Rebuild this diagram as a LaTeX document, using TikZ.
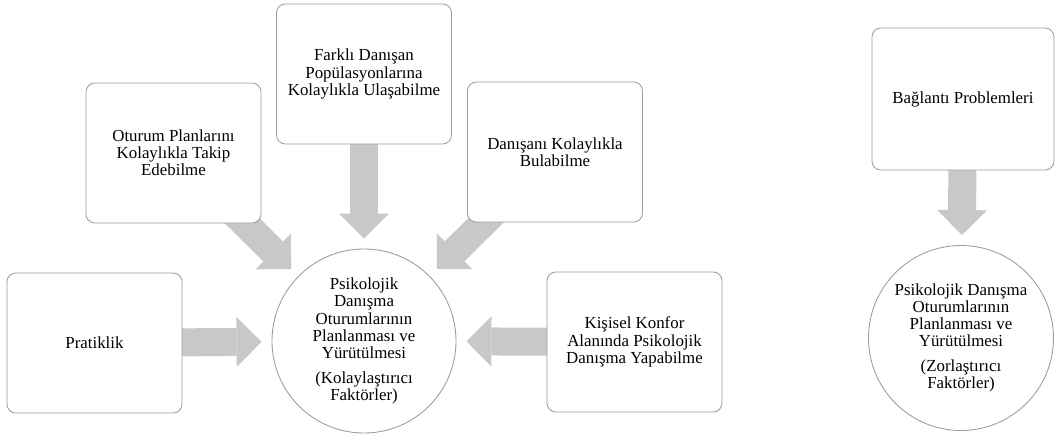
\documentclass[tikz,border=0pt]{standalone}
\usepackage{fontspec}
\setmainfont{Liberation Serif}
\usetikzlibrary{arrows.meta,backgrounds}

\definecolor{arrowgray}{RGB}{200,200,200}
\definecolor{edgegray}{RGB}{155,155,155}

\begin{document}
\begin{tikzpicture}[
    font=\fontsize{12}{12.2}\selectfont,
    factor/.style     = {draw=edgegray, line width=0.6pt, fill=white, rounded corners=0.22cm,
                         minimum width=4.375cm, minimum height=3.5cm, align=center, inner sep=2pt},
    process/.style    = {circle, draw=edgegray, line width=0.6pt, fill=white,
                         minimum size=4.6cm, inner sep=0pt, align=center},
    blockarrow/.style = {draw=arrowgray, line width=0.7cm,
                         -{Triangle[length=0.625cm, width=1.25cm, line width=0pt]},
                         shorten >=0.25cm, shorten <=-0.4cm}
  ]
\useasboundingbox (0,0) rectangle (26.4,10.9);

% =========================================================
% LEFT PART -- facilitating factors
% =========================================================
\node[process] (kolay) at (9.1, 2.375)
  {Psikolojik\\Danışma\\Oturumlarının\\Planlanması ve\\Yürütülmesi\\[5.5pt]
   (Kolaylaştırıcı\\Faktörler)};

\node[factor] (oturum)    at (4.3375, 7.075) {Oturum Planlarını\\Kolaylıkla Takip\\Edebilme};
\node[factor] (farkli)    at (9.1, 9.05)     {Farklı Danışan\\Popülasyonlarına\\Kolaylıkla Ulaşabilme};
\node[factor] (danisani)  at (13.875, 7.1)   {Danışanı Kolaylıkla\\Bulabilme};
\node[factor] (pratiklik) at (2.3625, 2.325) {Pratiklik};
\node[factor] (kisisel)   at (15.8625, 2.35) {Kişisel Konfor\\Alanında Psikolojik\\Danışma Yapabilme};

% Block arrows into the circle (behind the boxes)
\begin{scope}[on background layer]
  \draw[blockarrow] (oturum)    -- (kolay);
  \draw[blockarrow] (farkli)    -- (kolay);
  \draw[blockarrow] (danisani)  -- (kolay);
  \draw[blockarrow] (pratiklik) -- (kolay);
  \draw[blockarrow] (kisisel)   -- (kolay);
\end{scope}

% =========================================================
% RIGHT PART -- complicating factors
% =========================================================
\node[factor, minimum width=4.55cm, minimum height=3.55cm] (baglanti) at (24.075, 8.425)
  {Bağlantı Problemleri};
\node[process, minimum size=4.625cm] (zor) at (24.025, 2.45)
  {Psikolojik Danışma\\Oturumlarının\\Planlanması ve\\Yürütülmesi\\[5.5pt]
   (Zorlaştırıcı\\Faktörler)};

\begin{scope}[on background layer]
  \draw[blockarrow] (baglanti) -- (zor);
\end{scope}

\end{tikzpicture}
\end{document}
